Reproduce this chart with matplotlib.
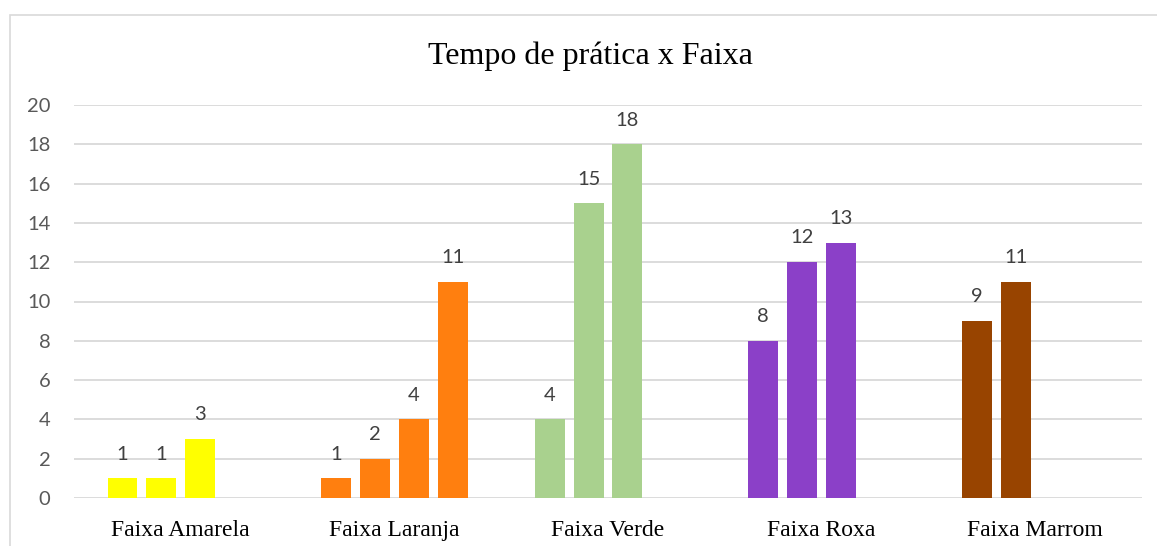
import matplotlib.pyplot as plt
import numpy as np
from matplotlib.patches import Rectangle

categories = ["Faixa Amarela", "Faixa Laranja", "Faixa Verde", "Faixa Roxa", "Faixa Marrom"]
# each category has up to four bars (slots), missing ones are NaN
slot1 = [1, 1, 4, 8, 9]
slot2 = [1, 2, 15, 12, 11]
slot3 = [3, 4, 18, 13, np.nan]
slot4 = [np.nan, 11, np.nan, np.nan, np.nan]
colors = ["#FFFF00", "#FF7F0F", "#A9D18E", "#8B40C8", "#984400"]
yticks = list(range(0, 21, 2))

fig = plt.figure(figsize=(11.57, 5.46), dpi=100)
ax = fig.add_axes([74/1157, 48/546, (1142-74)/1157, (498-105)/546])

# light border of the chart area
fig.patches.append(Rectangle((9.5/1157, -0.1), 1.2, (546-14.5)/546 + 0.1,
                             transform=fig.transFigure, fill=False,
                             edgecolor="#D9D9D9", linewidth=1.2))

x = np.arange(len(categories))
slot = 0.182
width = 0.14
for k, vals in enumerate([slot1, slot2, slot3, slot4]):
    offs = (k - 1.5) * slot
    for i, v in enumerate(vals):
        if np.isnan(v):
            continue
        ax.bar(x[i] + offs, v, width=width, color=colors[i], zorder=3)
        ax.text(x[i] + offs, v + 0.8, f"{int(v)}", ha="center", va="bottom",
                fontsize=14.5, color="#404040", family="Lato")

ax.set_xlim(-0.5, len(categories) - 0.5)
ax.set_ylim(0, 20)
ax.set_yticks(yticks)
ax.set_yticklabels([str(t) for t in yticks], fontsize=14.5, color="#595959", family="Lato")
ax.set_xticks(x)
ax.set_xticklabels(categories, fontsize=17, color="black", family="Liberation Serif")
ax.tick_params(axis="both", length=0)
ax.tick_params(axis="x", pad=16)
ax.tick_params(axis="y", pad=17)
ax.grid(axis="y", color="#D9D9D9", linewidth=1.3, zorder=0)
for s in ax.spines.values():
    s.set_visible(False)

fig.text(590 / 1157, (546 - 56) / 546, "Tempo de prática x Faixa",
         ha="center", va="center", fontsize=23, family="Liberation Serif")

fig.savefig("out.png", dpi=100)
